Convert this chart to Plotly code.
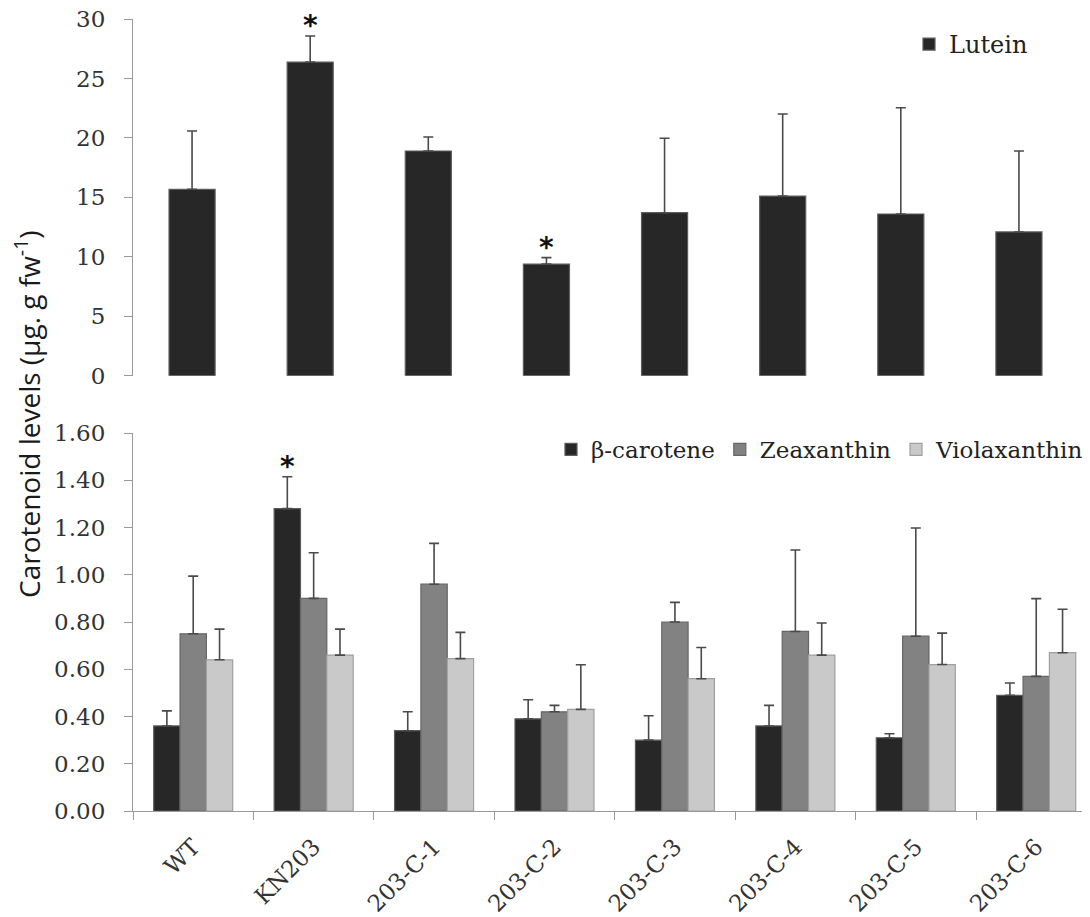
import plotly.graph_objects as go

categories = ["WT", "KN203", "203-C-1", "203-C-2", "203-C-3", "203-C-4", "203-C-5", "203-C-6"]

lutein = [15.68, 26.38, 18.90, 9.39, 13.71, 15.11, 13.60, 12.09]
lutein_err = [4.90, 2.19, 1.18, 0.54, 6.26, 6.90, 8.94, 6.81]

beta_carotene = [0.36, 1.28, 0.34, 0.39, 0.30, 0.36, 0.31, 0.49]
beta_carotene_err = [0.064, 0.135, 0.080, 0.081, 0.103, 0.087, 0.017, 0.052]
zeaxanthin = [0.75, 0.90, 0.96, 0.42, 0.80, 0.76, 0.74, 0.57]
zeaxanthin_err = [0.244, 0.193, 0.173, 0.027, 0.083, 0.345, 0.458, 0.329]
violaxanthin = [0.64, 0.66, 0.645, 0.43, 0.56, 0.66, 0.62, 0.67]
violaxanthin_err = [0.130, 0.110, 0.111, 0.189, 0.132, 0.136, 0.133, 0.184]

top_ticks = [0, 5, 10, 15, 20, 25, 30]
bottom_ticks = [0.0, 0.2, 0.4, 0.6, 0.8, 1.0, 1.2, 1.4, 1.6]

stars_top = ["KN203", "203-C-2"]
stars_bottom = ["KN203"]

# page body has an 8px margin: the figure is sized so that it fills the window
OFF = 8
W, H = 1090 - OFF, 917 - OFF
SERIF = "DejaVu Serif"
AXIS_GREY = "#9a9a9a"
TXT = "#333333"


def px(x):
    return (x - OFF) / W


def py(y):
    return 1 - (y - OFF) / H


fig = go.Figure()


def err(vals):
    return dict(type="data", array=vals, arrayminus=[0] * len(vals), symmetric=False,
                color="#4a4a4a", thickness=1.6, width=5)


fig.add_trace(go.Bar(x=categories, y=lutein, name="Lutein", xaxis="x", yaxis="y",
                     width=0.39,
                     marker=dict(color="#272727", line=dict(color="#5c5c5c", width=1.2)),
                     error_y=err(lutein_err), legend="legend"))

series = [("β-carotene", beta_carotene, beta_carotene_err, "#272727", "#5c5c5c"),
          ("Zeaxanthin", zeaxanthin, zeaxanthin_err, "#828282", "#666666"),
          ("Violaxanthin", violaxanthin, violaxanthin_err, "#c9c9c9", "#a0a0a0")]
for name, vals, errs, col, lc in series:
    fig.add_trace(go.Bar(x=categories, y=vals, name=name, xaxis="x2", yaxis="y2",
                         marker=dict(color=col, line=dict(color=lc, width=1.2)),
                         error_y=err(errs), legend="legend2"))

bottom_gap = 0.344
n_series = len(series)
bar_w = (1 - bottom_gap) / n_series

star_font = dict(family="DejaVu Sans", size=28, color="#111111")
annotations = []
for c in stars_top:
    i = categories.index(c)
    annotations.append(dict(x=c, y=lutein[i] + lutein_err[i], xref="x", yref="y",
                            text="<b>*</b>", showarrow=False, yanchor="bottom", yshift=-8,
                            font=star_font))
for c in stars_bottom:
    i = categories.index(c)
    annotations.append(dict(x=i - bar_w, y=beta_carotene[i] + beta_carotene_err[i],
                            xref="x2", yref="y2",
                            text="<b>*</b>", showarrow=False, yanchor="bottom", yshift=-8,
                            font=star_font))

annotations.append(dict(x=px(28), y=py(414), xref="paper", yref="paper",
                        text="Carotenoid levels (µg. g fw<sup>-1</sup>)", textangle=-90,
                        showarrow=False, xanchor="center", yanchor="middle",
                        font=dict(family="Open Sans", size=28, color="#1a1a1a")))

axis_common = dict(showline=True, linecolor=AXIS_GREY, linewidth=1.2, ticks="outside",
                   ticklen=8, tickcolor=AXIS_GREY, showgrid=False, zeroline=False,
                   automargin=False, ticklabeloverflow="allow",
                   tickfont=dict(family=SERIF, size=23, color=TXT))

cat_px = 120.43
fig.update_layout(
    width=W, height=H,
    margin=dict(l=0, r=0, t=0, b=0, autoexpand=False),
    paper_bgcolor="white", plot_bgcolor="white",
    barmode="group", bargap=bottom_gap, bargroupgap=0,
    xaxis=dict(domain=[px(133), px(1078)], range=[-0.5, 7.5], showline=False, ticks="",
               showticklabels=False, showgrid=False, zeroline=False, automargin=False,
               categoryorder="array", categoryarray=categories),
    yaxis=dict(domain=[py(375.7), py(19)], range=[0, 30], tickvals=top_ticks,
               anchor="x", ticklabelstandoff=14, **axis_common),
    xaxis2=dict(domain=[px(133), 1.0], range=[-0.5, -0.5 + (1090 - 133) / cat_px],
                anchor="y2", tickson="boundaries", tickangle=-45, ticklabelstandoff=12,
                categoryorder="array", categoryarray=categories, **axis_common),
    yaxis2=dict(domain=[py(811), py(433)], range=[0, 1.6], tickvals=bottom_ticks,
                tickformat=".2f", anchor="x2", ticklabelstandoff=14, **axis_common),
    legend=dict(x=px(909), y=py(22), xanchor="left", yanchor="top",
                font=dict(family=SERIF, size=24, color="#222222"),
                bgcolor="rgba(0,0,0,0)", itemwidth=30),
    legend2=dict(x=px(551), y=py(428), xanchor="left", yanchor="top", orientation="h",
                 font=dict(family=SERIF, size=23, color="#222222"),
                 bgcolor="rgba(0,0,0,0)", itemwidth=30),
    annotations=annotations,
    showlegend=True,
)

fig.write_html("out.html")
